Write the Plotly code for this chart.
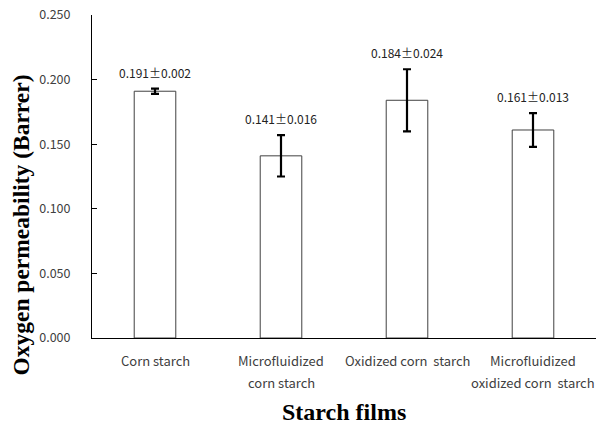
import plotly.graph_objects as go

categories = ["Corn starch", "Microfluidized<br>corn starch", "Oxidized corn  starch", "Microfluidized<br>oxidized corn  starch"]
values = [0.191, 0.141, 0.184, 0.161]
errors = [0.002, 0.016, 0.024, 0.013]
labels = ["0.191\u00b10.002", "0.141\u00b10.016", "0.184\u00b10.024", "0.161\u00b10.013"]
y_ticks = [0.0, 0.05, 0.10, 0.15, 0.20, 0.25]

W, H = 596, 426
ml, mr, mt, mb = 92, 0, 15, 88
TICKFONT = "Noto Sans CJK KR"

fig = go.Figure()
fig.add_trace(go.Bar(
    x=categories, y=values, width=0.33,
    marker=dict(color="white", line=dict(color="#404040", width=1)),
    error_y=dict(type="data", array=errors, color="black", thickness=2.2, width=4),
    showlegend=False, hoverinfo="skip",
))
for c, v, e, t in zip(categories, values, errors, labels):
    fig.add_annotation(x=c, y=v + e, text=t, showarrow=False, yanchor="bottom", yshift=6,
                       font=dict(family=TICKFONT, size=12, color="#222"))

# category labels, one annotation per line for reference-like line spacing
for c in categories:
    for i, line in enumerate(c.split("<br>")):
        fig.add_annotation(x=c, y=0, xref="x", yref="paper", text=line, showarrow=False,
                           yanchor="middle", yshift=-22 - 22 * i,
                           font=dict(family=TICKFONT, size=13, color="#404040"))

fig.add_annotation(text="<b>Oxygen permeability (Barrer)</b>", xref="paper", yref="paper",
                   x=-0.141, y=0.351, textangle=-90, showarrow=False, xanchor="center", yanchor="middle",
                   font=dict(family="Liberation Serif", size=23.5, color="black"))
fig.add_annotation(text="<b>Starch films</b>", xref="paper", yref="paper",
                   x=0.5, y=-0.229, showarrow=False, xanchor="center", yanchor="middle",
                   font=dict(family="Liberation Serif", size=24, color="black"))

fig.update_layout(
    width=W, height=H, margin=dict(l=ml, r=mr, t=mt, b=mb, autoexpand=False),
    paper_bgcolor="white", plot_bgcolor="white",
    font=dict(family=TICKFONT, size=12, color="#404040"),
    xaxis=dict(range=[-0.5, 3.5], showline=True, linecolor="black", linewidth=1,
               ticks="", showgrid=False, showticklabels=False, automargin=False),
    yaxis=dict(range=[0, 0.25], tickvals=y_ticks, tickformat=".3f", showline=True,
               linecolor="black", linewidth=1, ticks="inside", ticklen=5, tickcolor="black",
               showgrid=False, zeroline=False, ticklabelstandoff=18, automargin=False,
               tickfont=dict(size=12.5, color="#404040")),
)
fig.write_html("out.html", config={"displayModeBar": False},
               post_script="document.body.style.margin='0';document.body.style.overflow='hidden';")
